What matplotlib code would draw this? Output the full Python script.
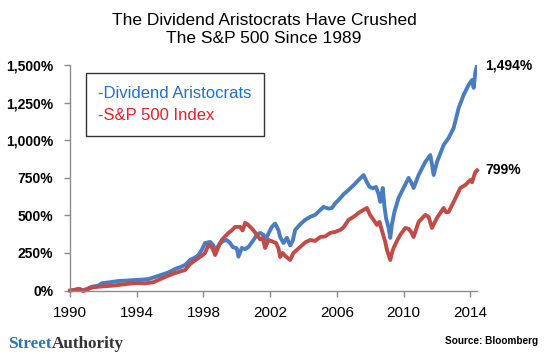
import matplotlib
matplotlib.use("Agg")
import matplotlib.pyplot as plt
from matplotlib.ticker import FuncFormatter

# ---- data ----
blue_years = [1990.0, 1990.3, 1990.5, 1990.8, 1991.0, 1991.3, 1991.7, 1991.9, 1992.4, 1992.9,
              1993.4, 1993.9, 1994.3, 1994.7, 1995.1, 1995.5, 1995.9, 1996.3, 1996.6, 1996.9,
              1997.2, 1997.5, 1997.7, 1997.9, 1998.1, 1998.4, 1998.6, 1998.7, 1998.85, 1999.0,
              1999.2, 1999.4, 1999.6, 1999.75, 2000.0, 2000.1, 2000.3, 2000.5, 2000.7, 2001.0,
              2001.2, 2001.4, 2001.6, 2001.75, 2001.9, 2002.1, 2002.3, 2002.5, 2002.6, 2002.8,
              2003.0, 2003.2, 2003.35, 2003.5, 2003.8, 2004.1, 2004.4, 2004.7, 2004.95, 2005.2,
              2005.5, 2005.7, 2005.9, 2006.1, 2006.4, 2006.7, 2007.0, 2007.3, 2007.6, 2007.8,
              2007.95, 2008.15, 2008.35, 2008.5, 2008.6, 2008.75, 2008.85, 2008.95, 2009.1, 2009.2,
              2009.3, 2009.45, 2009.7, 2010.0, 2010.3, 2010.45, 2010.6, 2010.9, 2011.3, 2011.6,
              2011.7, 2011.8, 2012.0, 2012.4, 2012.7, 2013.0, 2013.3, 2013.6, 2013.9, 2014.1,
              2014.2, 2014.3, 2014.4]
aristocrats = [0, 5, 12, 2, 10, 25, 32, 48, 55, 63,
               66, 70, 72, 76, 90, 105, 120, 143, 155, 170,
               203, 220, 236, 270, 316, 323, 300, 256, 290, 316,
               330, 336, 316, 290, 280, 225, 283, 275, 290, 336,
               370, 383, 370, 340, 380, 423, 445, 400, 356, 316,
               350, 300, 330, 403, 440, 470, 490, 503, 530, 556,
               545, 549, 580, 602, 640, 669, 700, 735, 768, 720,
               690, 680, 689, 640, 589, 682, 560, 480, 416, 350,
               440, 523, 616, 682, 749, 720, 682, 768, 855, 901,
               840, 768, 855, 968, 1015, 1081, 1214, 1301, 1368, 1400,
               1348, 1454, 1494]

red_years = [1990.0, 1990.4, 1990.6, 1990.8, 1991.0, 1991.3, 1991.7, 1992.0, 1992.5, 1993.0,
             1993.5, 1994.0, 1994.5, 1995.0, 1995.3, 1995.7, 1996.1, 1996.3, 1996.7, 1996.9,
             1997.2, 1997.5, 1997.7, 1998.0, 1998.1, 1998.3, 1998.5, 1998.7, 1998.9, 1999.1,
             1999.3, 1999.5, 1999.7, 1999.9, 2000.2, 2000.35, 2000.5, 2000.65, 2000.8, 2001.0,
             2001.2, 2001.4, 2001.55, 2001.7, 2001.9, 2002.2, 2002.35, 2002.5, 2002.6, 2002.75,
             2002.9, 2003.2, 2003.4, 2003.8, 2004.1, 2004.4, 2004.7, 2005.0, 2005.3, 2005.6,
             2005.9, 2006.2, 2006.4, 2006.7, 2007.0, 2007.3, 2007.5, 2007.8, 2008.0, 2008.2,
             2008.4, 2008.55, 2008.75, 2008.9, 2009.0, 2009.1, 2009.2, 2009.3, 2009.4, 2009.6,
             2009.8, 2010.1, 2010.3, 2010.45, 2010.6, 2010.9, 2011.3, 2011.5, 2011.7, 2012.0,
             2012.4, 2012.55, 2012.7, 2013.0, 2013.4, 2013.7, 2014.0, 2014.1, 2014.3, 2014.4]
sp500 = [0, 5, 8, -4, 5, 20, 25, 28, 32, 38,
         45, 50, 48, 55, 70, 90, 108, 116, 130, 136,
         176, 200, 216, 240, 250, 303, 290, 236, 290, 336,
         360, 383, 400, 423, 423, 400, 450, 440, 423, 400,
         370, 340, 350, 283, 336, 323, 316, 280, 223, 250,
         230, 203, 250, 290, 320, 336, 330, 356, 360, 383,
         390, 403, 420, 470, 490, 516, 530, 549, 500, 470,
         436, 456, 380, 323, 270, 236, 203, 250, 283, 330,
         370, 416, 410, 390, 356, 456, 503, 490, 416, 483,
         549, 520, 523, 589, 682, 702, 735, 720, 788, 799]

series_names = ["-Dividend Aristocrats", "-S&P 500 Index"]
end_labels = ["1,494%", "799%"]
x_ticks = [1990, 1994, 1998, 2002, 2006, 2010, 2014]
y_ticks = [0, 250, 500, 750, 1000, 1250, 1500]
title = "The Dividend Aristocrats Have Crushed\nThe S&P 500 Since 1989"

# ---- styling ----
plt.rcParams['font.family'] = ['Liberation Sans', 'DejaVu Sans']
blue_line = "#4A7DC0"
red_line = "#C24B48"
blue_text = "#1F6FD2"
red_text = "#EA1F26"
axis_gray = "#8C8C8C"
serif = ['Liberation Serif', 'DejaVu Serif']

fig = plt.figure(figsize=(5.46, 3.54), dpi=100)
ax = fig.add_axes([70 / 546, 1 - 290.5 / 354, (477 - 70) / 546, (290.5 - 65) / 354])

lb, = ax.plot(blue_years, aristocrats, color=blue_line, lw=2.8, solid_joinstyle='round')
lr, = ax.plot(red_years, sp500, color=red_line, lw=2.8, solid_joinstyle='round', clip_on=False)

ax.set_xlim(1990, 2014.4)
ax.set_ylim(0, 1500)
ax.set_xticks(x_ticks)
ax.set_yticks(y_ticks)
ax.yaxis.set_major_formatter(FuncFormatter(lambda v, p: f"{int(v):,}%"))

for s in ['top', 'right']:
    ax.spines[s].set_visible(False)
for s in ['left', 'bottom']:
    ax.spines[s].set_color(axis_gray)
    ax.spines[s].set_linewidth(1.0)
ax.tick_params(axis='both', direction='out', length=4, width=1, color=axis_gray)
ax.tick_params(axis='x', labelsize=11, pad=7)
ax.tick_params(axis='y', labelsize=10, pad=8)
for t in ax.get_yticklabels():
    t.set_fontweight('bold')

# legend
leg = ax.legend([lb, lr], series_names, loc='upper left',
                bbox_to_anchor=(86 / 546, 1 - 73 / 354), bbox_transform=fig.transFigure,
                handlelength=0, handletextpad=0, fontsize=12,
                labelcolor=[blue_text, red_text], frameon=True, fancybox=False,
                edgecolor='black', borderpad=0.75, labelspacing=0.45, borderaxespad=0)
leg.get_frame().set_linewidth(1.0)
for h in leg.legend_handles:
    h.set_visible(False)

# end labels
ax.annotate(end_labels[0], xy=(blue_years[-1], aristocrats[-1]), xytext=(6, 0),
            textcoords='offset points', va='center', ha='left', fontsize=10,
            fontweight='bold', annotation_clip=False)
ax.annotate(end_labels[1], xy=(red_years[-1], sp500[-1]), xytext=(6, 0),
            textcoords='offset points', va='center', ha='left', fontsize=10,
            fontweight='bold', annotation_clip=False)

# title
fig.text(264 / 546, 1 - 29.5 / 354, title, ha='center', va='center', fontsize=12.5,
         linespacing=1.25)

# footer
t1 = fig.text(8 / 546, 1 - 348 / 354, "Street", ha='left', va='baseline',
              fontsize=12.3, fontweight='bold', color="#2F72B3", family=serif)
ax.annotate("Authority", xy=(1, 0), xycoords=t1, xytext=(0, 0), textcoords='offset points',
            ha='left', va='bottom', fontsize=12.3, fontweight='bold', color="#333333",
            family=serif, annotation_clip=False)
fig.text(538 / 546, 1 - 341 / 354, "Source: Bloomberg", ha='right', va='center',
         fontsize=7.2, fontweight='bold')

fig.savefig("out.png", dpi=100)
